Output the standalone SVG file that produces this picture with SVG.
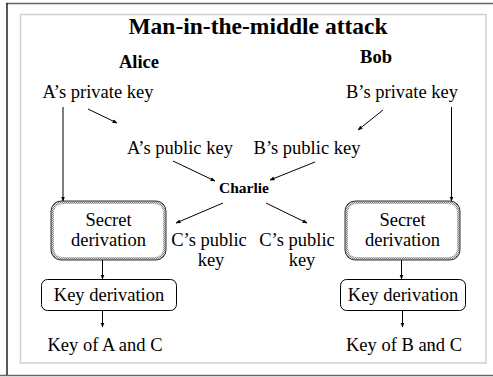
<svg xmlns="http://www.w3.org/2000/svg" width="493" height="377" viewBox="0 0 493 377">
  <style>
    text { font-family: "Liberation Serif", "Times New Roman", serif; fill: #000; }
    .title { font-size: 23.5px; font-weight: bold; }
    .who { font-size: 18.5px; font-weight: bold; }
    .lbl { font-size: 18.5px; }
    .mid { font-size: 15.5px; font-weight: bold; }
    .edge { stroke: #000; stroke-width: 1; fill: none; marker-end: url(#arrow); }
    .plain { fill: #fff; stroke: #000; stroke-width: 1; }
    .hatch-out { fill: url(#grain); stroke: #333; stroke-width: 1; }
    .hatch-in { fill: #fff; stroke: none; }
  </style>
  <defs>
    <marker id="arrow" viewBox="0 0 10 10" refX="9" refY="5" markerWidth="5" markerHeight="5" orient="auto" markerUnits="userSpaceOnUse">
      <path d="M0,1 L10,5 L0,9 z" fill="#000"/>
    </marker>
    <pattern id="grain" width="2" height="2" patternUnits="userSpaceOnUse">
      <rect width="2" height="2" fill="#e0e0e0"/>
      <rect width="1" height="1" fill="#777"/>
      <rect x="1" y="1" width="1" height="1" fill="#999"/>
    </pattern>
  </defs>

  <!-- slide frame -->
  <g id="frame">
    <rect x="0" y="0" width="493" height="377" fill="#fff"/>
    <line x1="6" y1="3.5" x2="493" y2="3.5" stroke="#666" stroke-width="1.5"/>
    <line x1="7" y1="3" x2="7" y2="376" stroke="#222" stroke-width="1.5"/>
    <line x1="0" y1="375.5" x2="493" y2="375.5" stroke="#666" stroke-width="1.5"/>
    <rect x="20.5" y="14.5" width="465.5" height="348.5" fill="none" stroke="#d0d0d0" stroke-width="1.5"/>
  </g>

  <g id="title">
    <text class="title" x="258" y="34" text-anchor="middle">Man-in-the-middle attack</text>
  </g>

  <g id="alice"><text class="who" x="139" y="68" text-anchor="middle">Alice</text></g>
  <g id="bob"><text class="who" x="376" y="63" text-anchor="middle">Bob</text></g>

  <g id="a-private"><text class="lbl" x="98" y="98" text-anchor="middle">A’s private key</text></g>
  <g id="b-private"><text class="lbl" x="402" y="98" text-anchor="middle">B’s private key</text></g>

  <g id="a-public"><text class="lbl" x="180" y="154" text-anchor="middle">A’s public key</text></g>
  <g id="b-public"><text class="lbl" x="307" y="154" text-anchor="middle">B’s public key</text></g>

  <g id="charlie"><text class="mid" x="244" y="193" text-anchor="middle">Charlie</text></g>

  <g id="c-public-left">
    <text class="lbl" x="209" y="246" text-anchor="middle">C’s public</text>
    <text class="lbl" x="211" y="266" text-anchor="middle">key</text>
  </g>
  <g id="c-public-right">
    <text class="lbl" x="297" y="246" text-anchor="middle">C’s public</text>
    <text class="lbl" x="302" y="266" text-anchor="middle">key</text>
  </g>

  <g id="secret-left">
    <rect class="hatch-out" x="51" y="201" width="115" height="59" rx="10"/>
    <rect class="hatch-in" x="54" y="204" width="109" height="53" rx="8"/>
    <text class="lbl" x="108.5" y="226" text-anchor="middle">Secret</text>
    <text class="lbl" x="108.5" y="246" text-anchor="middle">derivation</text>
  </g>
  <g id="secret-right">
    <rect class="hatch-out" x="345" y="201" width="115" height="59" rx="10"/>
    <rect class="hatch-in" x="348" y="204" width="109" height="53" rx="8"/>
    <text class="lbl" x="402.5" y="226" text-anchor="middle">Secret</text>
    <text class="lbl" x="402.5" y="246" text-anchor="middle">derivation</text>
  </g>

  <g id="keyder-left">
    <rect class="plain" x="41.5" y="279.5" width="135" height="31" rx="6"/>
    <text class="lbl" x="109" y="301" text-anchor="middle">Key derivation</text>
  </g>
  <g id="keyder-right">
    <rect class="plain" x="340.5" y="279.5" width="125" height="31" rx="6"/>
    <text class="lbl" x="403" y="301" text-anchor="middle">Key derivation</text>
  </g>

  <g id="key-ac"><text class="lbl" x="105" y="351" text-anchor="middle">Key of A and C</text></g>
  <g id="key-bc"><text class="lbl" x="404" y="351" text-anchor="middle">Key of B and C</text></g>
  <g id="page-no"><text x="431" y="347" font-size="7" font-family="Liberation Serif, serif">4</text></g>

  <g id="connectors">
    <line class="edge" x1="63" y1="107" x2="63" y2="201"/>
    <line class="edge" x1="88" y1="109" x2="117" y2="123"/>
    <line class="edge" x1="451.5" y1="107" x2="451.5" y2="201"/>
    <line class="edge" x1="383" y1="110" x2="358" y2="130"/>
    <line class="edge" x1="173" y1="161" x2="215" y2="181"/>
    <line class="edge" x1="315" y1="162" x2="270" y2="180"/>
    <line class="edge" x1="223" y1="203" x2="176" y2="223"/>
    <line class="edge" x1="266" y1="203" x2="307" y2="223"/>
    <line class="edge" x1="102.5" y1="260" x2="102.5" y2="279"/>
    <line class="edge" x1="401.5" y1="260" x2="401.5" y2="279"/>
    <line class="edge" x1="102.5" y1="311" x2="102.5" y2="327"/>
    <line class="edge" x1="402.5" y1="311" x2="402.5" y2="327"/>
  </g>
</svg>
